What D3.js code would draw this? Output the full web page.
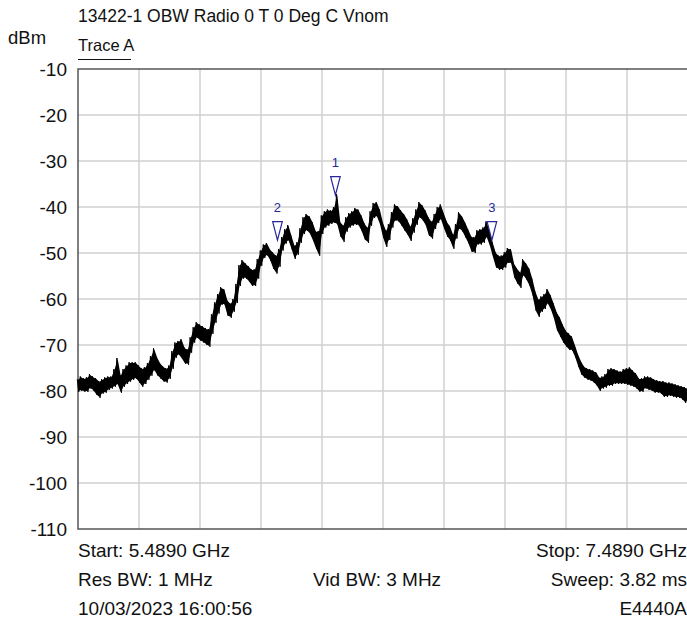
<!DOCTYPE html>
<head>
<meta charset="utf-8">
<script src="https://d3js.org/d3.v7.min.js"></script>
<style>
  body { margin:0; background:#fff; }
  svg { font-family: Arial, "Liberation Sans", sans-serif; display:block; }
</style>
</head>
<body>
<svg width="687" height="619"></svg>
<script>
var titleText = "13422-1 OBW Radio 0 T 0 Deg C Vnom";
var unitText = "dBm";
var traceName = "Trace A";
var startGHz = 5.489, stopGHz = 7.489;
var yTicks = [-10, -20, -30, -40, -50, -60, -70, -80, -90, -100, -110];

// sweep points (GHz)
var freqGHz = [
  5.489,5.499,5.509,5.519,5.529,5.539,5.549,5.559,5.569,5.579,
  5.589,5.599,5.609,5.619,5.629,5.639,5.649,5.659,5.669,5.679,
  5.689,5.699,5.709,5.719,5.729,5.739,5.749,5.759,5.769,5.779,
  5.789,5.799,5.809,5.819,5.829,5.839,5.849,5.859,5.869,5.879,
  5.889,5.899,5.909,5.919,5.929,5.939,5.949,5.959,5.969,5.979,
  5.989,5.999,6.009,6.019,6.029,6.039,6.049,6.059,6.069,6.079,
  6.089,6.099,6.109,6.119,6.129,6.139,6.149,6.159,6.169,6.179,
  6.189,6.199,6.209,6.219,6.229,6.239,6.249,6.259,6.269,6.279,
  6.289,6.299,6.309,6.319,6.329,6.339,6.349,6.359,6.369,6.379,
  6.389,6.399,6.409,6.419,6.429,6.439,6.449,6.459,6.469,6.479,
  6.489,6.499,6.509,6.519,6.529,6.539,6.549,6.559,6.569,6.579,
  6.589,6.599,6.609,6.619,6.629,6.639,6.649,6.659,6.669,6.679,
  6.689,6.699,6.709,6.719,6.729,6.739,6.749,6.759,6.769,6.779,
  6.789,6.799,6.809,6.819,6.829,6.839,6.849,6.859,6.869,6.879,
  6.889,6.899,6.909,6.919,6.929,6.939,6.949,6.959,6.969,6.979,
  6.989,6.999,7.009,7.019,7.029,7.039,7.049,7.059,7.069,7.079,
  7.089,7.099,7.109,7.119,7.129,7.139,7.149,7.159,7.169,7.179,
  7.189,7.199,7.209,7.219,7.229,7.239,7.249,7.259,7.269,7.279,
  7.289,7.299,7.309,7.319,7.329,7.339,7.349,7.359,7.369,7.379,
  7.389,7.399,7.409,7.419,7.429,7.439,7.449,7.459,7.469,7.479,
  7.489
];

// upper edge of the noisy trace (dBm)
var traceHigh = [
  -77.6,-77.0,-77.4,-77.2,-76.5,-77.0,-77.4,-78.0,-77.6,-77.2,
  -77.0,-77.0,-75.4,-73.0,-76.7,-75.4,-74.6,-73.9,-73.9,-73.9,
  -74.6,-75.2,-75.0,-74.1,-72.6,-70.9,-72.8,-74.1,-74.8,-75.2,
  -74.6,-71.5,-69.6,-69.3,-68.9,-70.7,-71.1,-68.5,-66.3,-65.2,
  -65.7,-66.1,-66.5,-66.7,-63.5,-60.9,-59.1,-57.6,-58.0,-60.4,
  -61.1,-60.2,-56.9,-52.8,-51.7,-52.4,-53.0,-53.7,-53.7,-51.5,
  -49.6,-48.3,-48.0,-49.3,-50.0,-50.7,-49.3,-46.7,-45.0,-44.1,
  -46.3,-48.5,-47.8,-44.8,-42.4,-41.7,-42.2,-43.5,-45.4,-45.4,
  -42.0,-41.1,-40.7,-40.9,-40.2,-37.4,-43.3,-44.1,-42.4,-41.5,
  -41.1,-40.4,-40.7,-42.0,-43.7,-44.6,-41.1,-39.3,-39.1,-40.7,
  -43.5,-45.2,-43.9,-41.3,-39.6,-40.0,-40.9,-41.7,-42.8,-44.3,
  -42.6,-40.7,-39.1,-39.8,-40.9,-42.4,-43.3,-41.7,-40.2,-39.6,
  -41.5,-43.3,-44.3,-46.1,-43.9,-41.3,-42.2,-43.5,-45.0,-46.5,
  -46.7,-45.2,-45.0,-44.6,-43.3,-45.4,-47.8,-50.0,-50.7,-50.7,
  -50.0,-49.1,-49.3,-52.4,-53.5,-54.3,-51.5,-52.4,-53.5,-55.7,
  -58.5,-60.2,-59.6,-59.1,-58.0,-59.3,-61.1,-63.0,-64.1,-65.7,
  -67.0,-67.6,-68.3,-70.2,-72.2,-73.7,-74.8,-75.2,-75.4,-75.7,
  -76.1,-77.2,-77.0,-76.5,-75.4,-75.2,-75.4,-75.7,-75.9,-75.4,
  -75.2,-75.0,-75.7,-76.3,-77.4,-77.4,-77.0,-77.0,-77.2,-77.6,
  -77.8,-78.0,-78.0,-78.3,-78.3,-78.5,-78.7,-78.9,-79.1,-79.3,
  -79.6
];

// lower edge of the noisy trace (dBm)
var traceLow = [
  -80.0,-79.8,-80.0,-80.0,-79.3,-79.8,-80.7,-81.3,-80.4,-80.2,
  -79.6,-79.3,-78.9,-78.5,-80.2,-78.9,-78.3,-77.8,-77.4,-77.2,
  -78.0,-78.9,-78.3,-77.4,-76.5,-75.4,-76.5,-77.2,-77.8,-78.0,
  -77.2,-75.0,-72.6,-72.0,-72.8,-73.9,-74.1,-71.5,-69.3,-68.3,
  -68.9,-69.3,-69.8,-70.2,-67.4,-65.0,-63.0,-61.1,-61.1,-63.5,
  -63.9,-62.6,-60.7,-57.0,-55.4,-55.4,-56.1,-57.0,-57.0,-55.4,
  -52.6,-50.9,-50.4,-51.5,-53.3,-54.3,-52.8,-49.3,-47.8,-47.2,
  -49.1,-51.1,-50.2,-47.6,-45.7,-45.0,-45.7,-47.2,-48.9,-50.4,
  -45.7,-44.3,-43.9,-43.5,-43.3,-43.7,-46.3,-47.4,-45.2,-44.3,
  -43.9,-43.7,-43.9,-45.2,-47.0,-47.6,-43.9,-42.2,-42.0,-43.7,
  -46.5,-48.5,-47.0,-44.3,-42.8,-43.0,-43.9,-45.0,-45.9,-47.2,
  -45.4,-43.7,-42.2,-42.8,-43.9,-46.1,-46.7,-44.6,-43.3,-42.6,
  -44.6,-46.3,-47.2,-48.9,-46.7,-44.6,-45.2,-46.5,-47.8,-49.6,
  -49.8,-48.0,-48.0,-47.6,-46.5,-48.3,-50.7,-53.0,-53.5,-53.5,
  -53.0,-52.0,-52.2,-55.2,-56.5,-57.4,-54.8,-55.7,-57.0,-59.1,
  -62.4,-63.7,-62.6,-62.0,-60.9,-62.2,-64.1,-66.7,-68.0,-69.3,
  -70.2,-70.9,-71.1,-72.6,-74.6,-76.3,-77.0,-77.4,-77.6,-78.0,
  -78.7,-79.8,-79.3,-79.1,-78.7,-78.7,-78.3,-78.3,-78.3,-78.3,
  -78.5,-78.7,-78.9,-79.3,-80.0,-80.0,-79.3,-79.6,-79.8,-80.2,
  -80.2,-80.4,-81.1,-81.1,-80.9,-81.1,-81.3,-81.3,-81.7,-82.4,
  -82.0
];

var markerIds  = ["1", "2", "3"];
var markerFreq = [6.333, 6.143, 6.846];
var markerDbm  = [-37.4, -47.2, -47.2];

var footLeft  = ["Start: 5.4890 GHz", "Res BW: 1 MHz", "10/03/2023 16:00:56"];
var footMid   = ["", "Vid BW: 3 MHz", ""];
var footRight = ["Stop: 7.4890 GHz", "Sweep: 3.82 ms", "E4440A"];

var svg = d3.select("svg");
var pL = 78, pT = 69, pR = 688, pB = 529;

var x = d3.scaleLinear().domain([startGHz, stopGHz]).range([pL, pR]);
var y = d3.scaleLinear().domain([-110, -10]).range([pB, pT]);

// grid
var vGrid = d3.range(1, 10).map(function(k) { return startGHz + k * (stopGHz - startGHz) / 10; });
svg.append("g").selectAll("line").data(vGrid).enter().append("line")
  .attr("x1", d => x(d)).attr("x2", d => x(d))
  .attr("y1", pT).attr("y2", pB)
  .attr("stroke", "#d0d0d0").attr("stroke-width", 1.5);
svg.append("g").selectAll("line").data(yTicks.slice(1, -1)).enter().append("line")
  .attr("x1", pL).attr("x2", pR)
  .attr("y1", d => y(d)).attr("y2", d => y(d))
  .attr("stroke", "#d0d0d0").attr("stroke-width", 1.5);

// frame
svg.append("rect")
  .attr("x", pL).attr("y", pT)
  .attr("width", pR - pL).attr("height", pB - pT)
  .attr("fill", "none").attr("stroke", "#555").attr("stroke-width", 1.5);

// y axis labels (plain hyphen, as on the instrument)
var yAxis = d3.axisLeft(y).tickValues(yTicks).tickSize(0).tickPadding(11)
  .tickFormat(d => String(d));
var ga = svg.append("g").attr("transform", "translate(" + pL + ",0)").call(yAxis);
ga.select(".domain").remove();
ga.selectAll("text").attr("font-size", 19).attr("font-family", null).attr("fill", "#111");

// trace: solid band plus a dense zigzag for a noisy edge
var idx = d3.range(freqGHz.length);
var area = d3.area()
  .x(i => x(freqGHz[i]))
  .y0(i => y(traceLow[i]))
  .y1(i => y(traceHigh[i]));
svg.append("path").datum(idx).attr("d", area).attr("fill", "#000");

var zig = [];
idx.forEach(function(i) {
  var xi = x(freqGHz[i]);
  zig.push([xi - 0.75, y(traceHigh[i]) - 0.8]);
  zig.push([xi + 0.75, y(traceLow[i]) + 0.8]);
});
svg.append("path").datum(zig).attr("d", d3.line())
  .attr("fill", "none").attr("stroke", "#000").attr("stroke-width", 1);

// markers
var mk = svg.append("g").selectAll("g").data(markerIds).enter().append("g")
  .attr("transform", (d, i) => "translate(" + x(markerFreq[i]) + "," + y(markerDbm[i]) + ")");
mk.append("path").attr("d", "M0,0L-4.8,-18.5L4.8,-18.5Z")
  .attr("fill", "none").attr("stroke", "#27279a").attr("stroke-width", 1.2);
mk.append("text").attr("y", -28).attr("text-anchor", "middle")
  .attr("font-size", 13).attr("fill", "#27279a").text(d => d);

// titles
svg.append("text").attr("x", pL).attr("y", 22).attr("font-size", 17.5).attr("fill", "#111").text(titleText);
svg.append("text").attr("x", 8).attr("y", 44).attr("font-size", 18.5).attr("fill", "#111").text(unitText);
svg.append("text").attr("x", pL).attr("y", 51).attr("font-size", 16.5).attr("fill", "#111").text(traceName);
svg.append("line").attr("x1", pL).attr("x2", 131).attr("y1", 59.5).attr("y2", 59.5)
  .attr("stroke", "#111").attr("stroke-width", 1);

// footer
var rows = [557, 586, 615];
svg.append("g").selectAll("text").data(footLeft).enter().append("text")
  .attr("x", pL).attr("y", (d, i) => rows[i]).attr("font-size", 19).attr("fill", "#111").text(d => d);
svg.append("g").selectAll("text").data(footMid).enter().append("text")
  .attr("x", 313).attr("y", (d, i) => rows[i]).attr("font-size", 19).attr("fill", "#111").text(d => d);
svg.append("g").selectAll("text").data(footRight).enter().append("text")
  .attr("x", 687).attr("y", (d, i) => rows[i]).attr("text-anchor", "end")
  .attr("font-size", 19).attr("fill", "#111").text(d => d);
</script>
</body>
